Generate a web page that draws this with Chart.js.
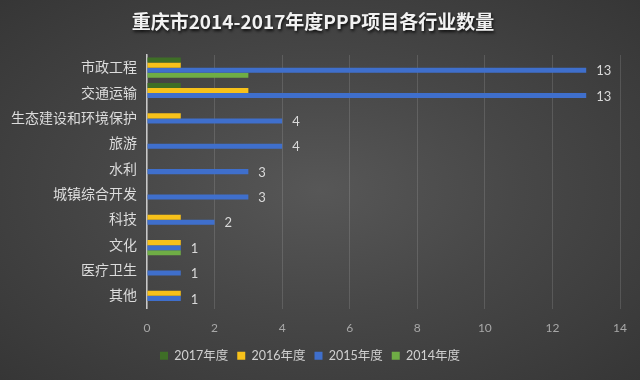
<!DOCTYPE html>
<html><head><meta charset="utf-8">
<script src="https://cdn.jsdelivr.net/npm/chart.js@4"></script>
<style>
html,body{margin:0;padding:0;}
body{width:640px;height:380px;background:radial-gradient(ellipse at 50% 50%, #575757 0%, #474747 45%, #363636 100%);}
#wrap{width:640px;height:380px;position:relative;}
</style></head>
<body><div id="wrap"><canvas id="c" width="640" height="380"></canvas></div>
<script>
const chartTitle = "重庆市2014-2017年度PPP项目各行业数量";
const categories = ["市政工程","交通运输","生态建设和环境保护","旅游","水利","城镇综合开发","科技","文化","医疗卫生","其他"];
const seriesNames = ["2017年度","2016年度","2015年度","2014年度"];
const values2017 = [1,1,null,null,null,null,null,null,null,null];
const values2016 = [1,3,1,null,null,null,1,1,null,1];
const values2015 = [13,13,4,4,3,3,2,1,1,1];
const values2014 = [3,null,null,null,null,null,null,1,null,null];
const xTicks = [0,2,4,6,8,10,12,14];
const colors = ["#3e6e26","#f7c11a","#3f6fcc","#6fad45"];

const FONT = "Lato, 'Noto Sans CJK SC', sans-serif";

const titlePlugin = {
  id:'shadowTitle',
  afterDraw(chart){
    const ctx = chart.ctx;
    ctx.save();
    ctx.font = "bold 19px 'Noto Sans CJK SC', sans-serif";
    ctx.textAlign = 'center';
    ctx.textBaseline = 'middle';
    ctx.shadowColor = 'rgba(0,0,0,0.8)';
    ctx.shadowOffsetX = 1; ctx.shadowOffsetY = 2; ctx.shadowBlur = 3;
    ctx.fillStyle = '#f2f2f2';
    ctx.fillText(chartTitle, 313, 22);
    ctx.restore();
  }
};
const labelPlugin = {
  id:'valLabels',
  afterDatasetsDraw(chart){
    const ctx = chart.ctx;
    const meta = chart.getDatasetMeta(2);
    ctx.save();
    ctx.font = "13px " + FONT;
    ctx.fillStyle = '#d9d9d9';
    ctx.textAlign = 'left';
    ctx.textBaseline = 'middle';
    meta.data.forEach((el,i)=>{
      const v = values2015[i];
      if (v == null) return;
      ctx.fillText(String(v), el.x + 10, el.y + 1);
    });
    ctx.restore();
  }
};

new Chart(document.getElementById('c'), {
  type:'bar',
  data:{
    labels:categories,
    datasets:[
      {label:seriesNames[0], data:values2017, backgroundColor:colors[0]},
      {label:seriesNames[1], data:values2016, backgroundColor:colors[1]},
      {label:seriesNames[2], data:values2015, backgroundColor:colors[2]},
      {label:seriesNames[3], data:values2014, backgroundColor:colors[3]}
    ]
  },
  options:{
    indexAxis:'y',
    responsive:false,
    animation:false,
    devicePixelRatio:1,
    datasets:{bar:{categoryPercentage:0.8, barPercentage:1.0}},
    layout:{padding:{top:55,right:20,left:0,bottom:8}},
    scales:{
      x:{
        min:0,max:14,
        afterBuildTicks(s){ s.ticks = xTicks.map(v=>({value:v})); },
        afterFit(s){ s.height = 32; },
        grid:{color:'rgba(255,255,255,0.13)', drawTicks:false},
        border:{display:false},
        ticks:{color:'#a8a8a8', font:{family:FONT,size:12}, padding:12}
      },
      y:{
        afterFit(s){ s.width = 147; },
        grid:{display:false, drawTicks:false},
        border:{display:true, color:'#c8c8c8', width:1.5},
        ticks:{color:'#dcdcdc', font:{family:FONT,size:14}, padding:10}
      }
    },
    plugins:{
      legend:{
        position:'bottom',
        labels:{color:'#d0d0d0', font:{family:FONT,size:12.5}, boxWidth:8, boxHeight:8, padding:9}
      },
      tooltip:{enabled:false}
    }
  },
  plugins:[titlePlugin,labelPlugin]
});
</script></body></html>
